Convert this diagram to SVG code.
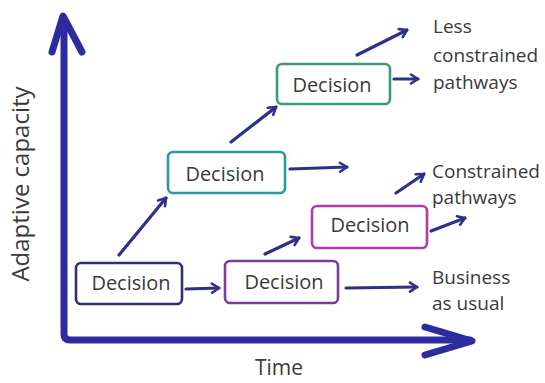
<svg xmlns="http://www.w3.org/2000/svg" width="545" height="383" viewBox="0 0 545 383">
<style>
.box{fill:#ffffff;stroke-width:2.6;stroke-linejoin:round}
.dec{font-family:"Open Sans","Liberation Sans",sans-serif;font-size:20px;fill:#3a3a3a;text-anchor:middle}
.lbl{font-family:"Open Sans","Liberation Sans",sans-serif;font-size:19px;fill:#3a3a3a}
.ax{fill:none;stroke:#2c2ca0;stroke-width:7;stroke-linecap:round;stroke-linejoin:round}
.con{fill:none;stroke:#2e3188;stroke-width:3.2;stroke-linecap:round;marker-end:url(#ah)}
</style>
<defs>
<marker id="ah" viewBox="0 0 12 12" refX="10" refY="6" markerWidth="12" markerHeight="12" markerUnits="userSpaceOnUse" orient="auto">
<path d="M3,1.5 L10,6 L3,10.5" fill="none" stroke="#2e3188" stroke-width="2.6" stroke-linecap="round" stroke-linejoin="round"/>
</marker>
</defs>
<rect width="545" height="383" fill="#ffffff"/>
<g id="axes">
<path class="ax" d="M64,20 L64,334 Q64,340 70,340 L470,340"/>
<path class="ax" d="M52,52 L63,16 L82,52"/>
<path class="ax" d="M425,327 L472,341 L425,355"/>
<text class="lbl" style="font-size:24px" transform="translate(29,184) rotate(-90)" text-anchor="middle">Adaptive capacity</text>
<text class="lbl" style="font-size:21px" x="279" y="375" text-anchor="middle">Time</text>
</g>
<g id="connectors">
<line class="con" x1="119" y1="255" x2="166" y2="198"/>
<line class="con" x1="186" y1="289" x2="219" y2="288"/>
<line class="con" x1="265" y1="254" x2="299" y2="238"/>
<line class="con" x1="231" y1="142" x2="276" y2="107"/>
<line class="con" x1="290" y1="169" x2="347" y2="167"/>
<line class="con" x1="357" y1="55" x2="407" y2="30"/>
<line class="con" x1="394" y1="79" x2="418" y2="79"/>
<line class="con" x1="396" y1="193" x2="424" y2="174"/>
<line class="con" x1="431" y1="231" x2="465" y2="218"/>
<line class="con" x1="346" y1="288" x2="417" y2="287"/>
</g>
<g id="n1">
<rect class="box" x="76" y="263" width="106" height="41" rx="5" stroke="#2f2f78"/>
<text class="dec" x="131" y="290">Decision</text>
</g>
<g id="n2">
<rect class="box" x="225" y="261" width="113" height="42" rx="5" stroke="#7a3d9c"/>
<text class="dec" x="284" y="289">Decision</text>
</g>
<g id="n3">
<rect class="box" x="312" y="206" width="115" height="42" rx="5" stroke="#b03cac"/>
<text class="dec" x="370" y="232">Decision</text>
</g>
<g id="n4">
<rect class="box" x="168" y="152" width="117" height="41" rx="5" stroke="#2a9aa0"/>
<text class="dec" x="225" y="181">Decision</text>
</g>
<g id="n5">
<rect class="box" x="277" y="64" width="113" height="40" rx="5" stroke="#3a9c74"/>
<text class="dec" x="332" y="92">Decision</text>
</g>
<g id="labels">
<text class="lbl" x="433" y="33">Less</text>
<text class="lbl" x="433" y="62">constrained</text>
<text class="lbl" x="433" y="89">pathways</text>
<text class="lbl" x="432" y="178">Constrained</text>
<text class="lbl" x="432" y="204">pathways</text>
<text class="lbl" x="432" y="284">Business</text>
<text class="lbl" x="432" y="310">as usual</text>
</g>
</svg>
